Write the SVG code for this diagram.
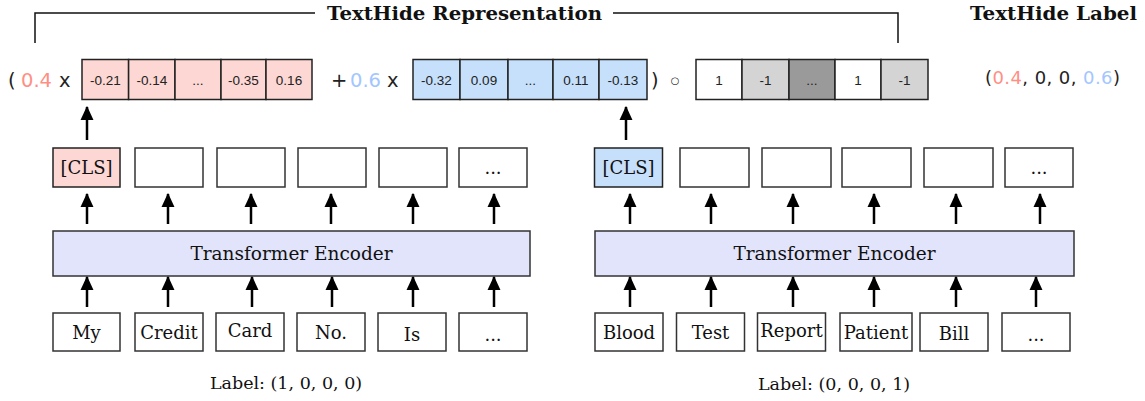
<svg xmlns="http://www.w3.org/2000/svg" width="1145" height="401" viewBox="0 0 1145 401">
<defs>
<style>
.serif{font-family:"DejaVu Serif","Liberation Serif",serif;fill:#111}
.title{font-family:"DejaVu Serif","Liberation Serif",serif;font-weight:bold;font-size:18.5px;fill:#111}
.sans{font-family:"DejaVu Sans","Liberation Sans",sans-serif;fill:#222}
.cell{font-family:"Liberation Sans","DejaVu Sans",sans-serif;font-size:13.5px;fill:#222;text-anchor:middle}
.tok{font-family:"DejaVu Serif","Liberation Serif",serif;font-size:18px;fill:#111;text-anchor:middle}
.box{fill:#fff;stroke:#333;stroke-width:1.5}
.red{fill:#fdd7d4;stroke:#222;stroke-width:1.5}
.blue{fill:#c6e0fb;stroke:#222;stroke-width:1.5}
.white{fill:#fff;stroke:#222;stroke-width:1.5}
.lg{fill:#d4d4d4;stroke:#222;stroke-width:1.5}
.dg{fill:#9a9a9a;stroke:#222;stroke-width:1.5}
.enc{fill:#e1e4fb;stroke:#333;stroke-width:1.5}
.arr{stroke:#000;stroke-width:2.5;fill:none;marker-end:url(#ah)}
.br{stroke:#111;stroke-width:1.5;fill:none}
.r{fill:#ff8f85}
.b{fill:#a3c6ff}
</style>
<marker id="ah" markerUnits="userSpaceOnUse" markerWidth="14" markerHeight="14" refX="12" refY="6" orient="auto" viewBox="0 0 13 12">
<path d="M0,0 L13,6 L0,12 Z" fill="#000"/>
</marker>
</defs>

<g id="bracket">
<path class="br" d="M35,43 V13 H315"/>
<path class="br" d="M613,13 H898 V43"/>
<text class="title" x="327" y="19.5" textLength="275" lengthAdjust="spacingAndGlyphs">TextHide Representation</text>
</g>
<g id="label-title">
<text class="title" x="970" y="19.5" textLength="167" lengthAdjust="spacingAndGlyphs">TextHide Label</text>
</g>

<g id="formula">
<text class="sans" x="8" y="87" font-size="19.5">(</text>
<text class="sans r" x="21" y="87" font-size="19.5">0.4</text>
<text class="sans" x="59" y="87" font-size="19.5">x</text>
<text class="sans" x="331" y="87" font-size="19.5">+</text>
<text class="sans b" x="350" y="87" font-size="19.5">0.6</text>
<text class="sans" x="387" y="87" font-size="19.5">x</text>
<text class="sans" x="651" y="87" font-size="19.5">)</text>
<text class="sans" x="675" y="84" font-size="10" text-anchor="middle">○</text>
</g>

<g id="vec-red">
<rect class="red" x="82" y="59.5" width="46.6" height="40"/>
<rect class="red" x="128.6" y="59.5" width="46.4" height="40"/>
<rect class="red" x="175" y="59.5" width="46" height="40"/>
<rect class="red" x="221" y="59.5" width="45" height="40"/>
<rect class="red" x="266" y="59.5" width="46" height="40"/>
<text class="cell" x="105.3" y="84.5">-0.21</text>
<text class="cell" x="151.8" y="84.5">-0.14</text>
<text class="cell" x="198" y="84.5">...</text>
<text class="cell" x="243.5" y="84.5">-0.35</text>
<text class="cell" x="289" y="84.5">0.16</text>
</g>

<g id="vec-blue">
<rect class="blue" x="413" y="59.5" width="47" height="40"/>
<rect class="blue" x="460" y="59.5" width="48" height="40"/>
<rect class="blue" x="508" y="59.5" width="45" height="40"/>
<rect class="blue" x="553" y="59.5" width="46" height="40"/>
<rect class="blue" x="599" y="59.5" width="48" height="40"/>
<text class="cell" x="436.5" y="84.5">-0.32</text>
<text class="cell" x="484" y="84.5">0.09</text>
<text class="cell" x="530.5" y="84.5">...</text>
<text class="cell" x="576" y="84.5">0.11</text>
<text class="cell" x="623" y="84.5">-0.13</text>
</g>

<g id="vec-mask">
<rect class="white" x="696" y="59.5" width="46" height="40"/>
<rect class="lg" x="742" y="59.5" width="47" height="40"/>
<rect class="dg" x="789" y="59.5" width="46" height="40"/>
<rect class="white" x="835" y="59.5" width="46" height="40"/>
<rect class="lg" x="881" y="59.5" width="47" height="40"/>
<text class="cell" x="719" y="84.5">1</text>
<text class="cell" x="765.5" y="84.5">-1</text>
<text class="cell" x="812" y="84.5">...</text>
<text class="cell" x="858" y="84.5">1</text>
<text class="cell" x="904.5" y="84.5">-1</text>
</g>

<g id="mixed-label">
<text class="sans" x="985" y="83.5" font-size="18" textLength="135" lengthAdjust="spacing">(<tspan class="r">0.4</tspan>, 0, 0, <tspan class="b">0.6</tspan>)</text>
</g>

<g id="left-outputs">
<rect class="red" x="53" y="148" width="67" height="39" stroke="#333"/>
<text class="tok" x="86.5" y="174">[CLS]</text>
<rect class="box" x="135" y="148" width="68" height="39"/>
<rect class="box" x="217" y="148" width="68" height="39"/>
<rect class="box" x="298" y="148" width="68" height="39"/>
<rect class="box" x="379" y="148" width="68" height="39"/>
<rect class="box" x="459" y="148" width="68" height="39"/>
<text class="tok" x="493" y="174">...</text>
</g>

<g id="left-encoder">
<rect class="enc" x="53" y="231" width="477" height="45"/>
<text class="serif" x="291.5" y="260" font-size="18.5" text-anchor="middle">Transformer Encoder</text>
</g>

<g id="left-tokens">
<rect class="box" x="53" y="313" width="67" height="38"/>
<text class="tok" x="86.5" y="339">My</text>
<rect class="box" x="135" y="313" width="68" height="38"/>
<text class="tok" x="169" y="339">Credit</text>
<rect class="box" x="216" y="313" width="68" height="38"/>
<text class="tok" x="250" y="337">Card</text>
<rect class="box" x="297" y="313" width="68" height="38"/>
<text class="tok" x="331" y="339">No.</text>
<rect class="box" x="378" y="313" width="68" height="38"/>
<text class="tok" x="412" y="341">Is</text>
<rect class="box" x="459" y="313" width="68" height="38"/>
<text class="tok" x="493" y="341">...</text>
<text class="serif" x="286" y="389" font-size="17.5" text-anchor="middle">Label: (1, 0, 0, 0)</text>
</g>

<g id="right-outputs">
<rect class="blue" x="594.5" y="148" width="68" height="39" stroke="#333"/>
<text class="tok" x="628.5" y="174">[CLS]</text>
<rect class="box" x="680" y="148" width="69" height="39"/>
<rect class="box" x="762" y="148" width="69" height="39"/>
<rect class="box" x="842" y="148" width="69" height="39"/>
<rect class="box" x="924" y="148" width="69" height="39"/>
<rect class="box" x="1005" y="148" width="68" height="39"/>
<text class="tok" x="1039" y="174">...</text>
</g>

<g id="right-encoder">
<rect class="enc" x="595" y="231" width="479" height="45"/>
<text class="serif" x="834.5" y="260" font-size="18.5" text-anchor="middle">Transformer Encoder</text>
</g>

<g id="right-tokens">
<rect class="box" x="595" y="313" width="68" height="38"/>
<text class="tok" x="629" y="339">Blood</text>
<rect class="box" x="676.5" y="313" width="68" height="38"/>
<text class="tok" x="710.5" y="339">Test</text>
<rect class="box" x="757.5" y="313" width="68" height="38"/>
<text class="tok" x="791.5" y="337">Report</text>
<rect class="box" x="840" y="313" width="72" height="38"/>
<text class="tok" x="876" y="339">Patient</text>
<rect class="box" x="920" y="313" width="68" height="38"/>
<text class="tok" x="954" y="340">Bill</text>
<rect class="box" x="1002" y="313" width="68" height="38"/>
<text class="tok" x="1036" y="341">...</text>
<text class="serif" x="834" y="390" font-size="17.5" text-anchor="middle">Label: (0, 0, 0, 1)</text>
</g>

<g id="connectors">
<line class="arr" x1="87" y1="140" x2="87" y2="107"/>
<line class="arr" x1="626" y1="140" x2="626" y2="107"/>
<line class="arr" x1="87" y1="224" x2="87" y2="194"/>
<line class="arr" x1="168" y1="224" x2="168" y2="194"/>
<line class="arr" x1="251" y1="224" x2="251" y2="194"/>
<line class="arr" x1="331" y1="224" x2="331" y2="194"/>
<line class="arr" x1="413" y1="224" x2="413" y2="194"/>
<line class="arr" x1="494" y1="224" x2="494" y2="194"/>
<line class="arr" x1="87" y1="307" x2="87" y2="277"/>
<line class="arr" x1="168" y1="307" x2="168" y2="277"/>
<line class="arr" x1="252" y1="307" x2="252" y2="277"/>
<line class="arr" x1="332" y1="307" x2="332" y2="277"/>
<line class="arr" x1="413" y1="307" x2="413" y2="277"/>
<line class="arr" x1="494" y1="307" x2="494" y2="277"/>
<line class="arr" x1="630" y1="224" x2="630" y2="194"/>
<line class="arr" x1="711" y1="224" x2="711" y2="194"/>
<line class="arr" x1="793" y1="224" x2="793" y2="194"/>
<line class="arr" x1="874" y1="224" x2="874" y2="194"/>
<line class="arr" x1="956" y1="224" x2="956" y2="194"/>
<line class="arr" x1="1040" y1="224" x2="1040" y2="194"/>
<line class="arr" x1="630" y1="307" x2="630" y2="277"/>
<line class="arr" x1="711" y1="307" x2="711" y2="277"/>
<line class="arr" x1="793" y1="307" x2="793" y2="277"/>
<line class="arr" x1="874" y1="307" x2="874" y2="277"/>
<line class="arr" x1="956" y1="307" x2="956" y2="277"/>
<line class="arr" x1="1036" y1="307" x2="1036" y2="277"/>
</g>
</svg>
